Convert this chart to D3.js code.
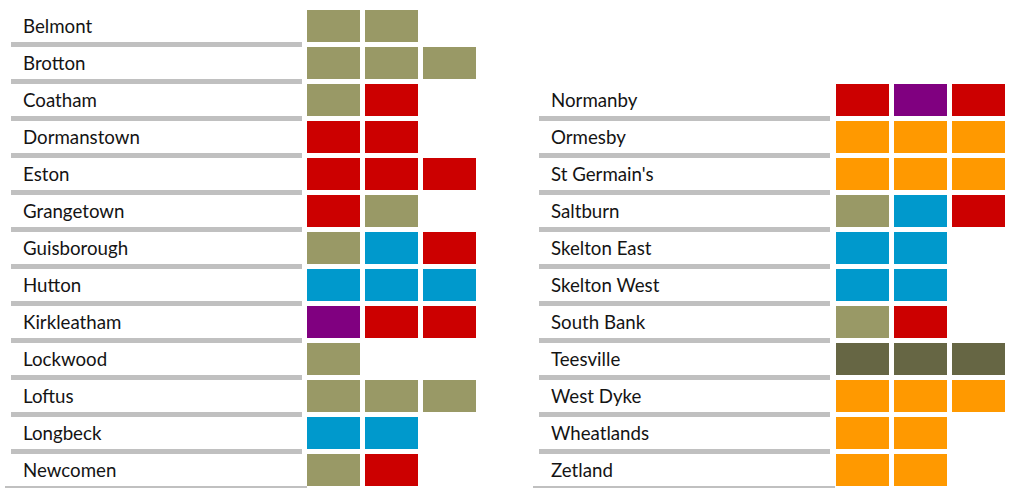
<!DOCTYPE html>
<html>
<head>
<meta charset="utf-8">
<script src="https://cdn.jsdelivr.net/npm/d3@7"></script>
<style>
  html, body { margin: 0; padding: 0; background: #fff; }
  svg { display: block; }
  text { font-family: Lato, "Open Sans", sans-serif; font-size: 18.7px; fill: #141414; }
</style>
</head>
<body>
<svg id="chart" width="1010" height="488"></svg>
<script>
// Wards and the party holding each seat, split into two columns.
const leftWards = ["Belmont", "Brotton", "Coatham", "Dormanstown", "Eston", "Grangetown",
  "Guisborough", "Hutton", "Kirkleatham", "Lockwood", "Loftus", "Longbeck", "Newcomen"];
const leftSeats = [
  ["Independent", "Independent"],
  ["Independent", "Independent", "Independent"],
  ["Independent", "Labour"],
  ["Labour", "Labour"],
  ["Labour", "Labour", "Labour"],
  ["Labour", "Independent"],
  ["Independent", "Conservative", "Labour"],
  ["Conservative", "Conservative", "Conservative"],
  ["UKIP", "Labour", "Labour"],
  ["Independent"],
  ["Independent", "Independent", "Independent"],
  ["Conservative", "Conservative"],
  ["Independent", "Labour"]
];

const rightWards = ["Normanby", "Ormesby", "St Germain's", "Saltburn", "Skelton East",
  "Skelton West", "South Bank", "Teesville", "West Dyke", "Wheatlands", "Zetland"];
const rightSeats = [
  ["Labour", "UKIP", "Labour"],
  ["Liberal Democrat", "Liberal Democrat", "Liberal Democrat"],
  ["Liberal Democrat", "Liberal Democrat", "Liberal Democrat"],
  ["Independent", "Conservative", "Labour"],
  ["Conservative", "Conservative"],
  ["Conservative", "Conservative"],
  ["Independent", "Labour"],
  ["Teesville Independent", "Teesville Independent", "Teesville Independent"],
  ["Liberal Democrat", "Liberal Democrat", "Liberal Democrat"],
  ["Liberal Democrat", "Liberal Democrat"],
  ["Liberal Democrat", "Liberal Democrat"]
];
// Row at which the right-hand column begins.
const rightStartRow = 2;

const parties = ["Independent", "Labour", "Conservative", "UKIP", "Liberal Democrat", "Teesville Independent"];
const partyColours = ["#999966", "#cc0000", "#0099cc", "#800080", "#ff9900", "#666644"];

const svg = d3.select("#chart");
const totalRows = leftWards.length;

const y = d3.scaleBand()
  .domain(d3.range(totalRows))
  .range([10, 10 + totalRows * 37 - 5])
  .paddingInner(5 / 37)
  .paddingOuter(0);

const seatX = d3.scaleBand()
  .domain(d3.range(3))
  .range([307, 476])
  .paddingInner(5 / 58)
  .paddingOuter(0);

const colour = d3.scaleOrdinal().domain(parties).range(partyColours);

function drawColumn(g, wards, seats, startRow, seatShift) {
  const rows = wards.map((w, i) => ({ ward: w, seats: seats[i], row: startRow + i, last: i === wards.length - 1 }));

  const row = g.selectAll("g.ward")
    .data(rows)
    .join("g")
    .attr("class", "ward")
    .attr("transform", d => `translate(0,${y(d.row)})`);

  // separator rule under each label
  row.append("rect")
    .attr("x", d => d.last ? 5 : 11)
    .attr("width", d => d.last ? 302 : 291)
    .attr("y", y.bandwidth())
    .attr("height", 5)
    .attr("fill", "#c0c0c0");

  row.append("text")
    .attr("x", 23)
    .attr("y", 22.8)
    .text(d => d.ward);

  row.selectAll("rect.seat")
    .data(d => d.seats)
    .join("rect")
    .attr("class", "seat")
    .attr("x", (d, i) => seatX(i) + seatShift)
    .attr("y", 0)
    .attr("width", seatX.bandwidth())
    .attr("height", y.bandwidth())
    .attr("fill", d => colour(d));
}

drawColumn(svg.append("g"), leftWards, leftSeats, 0, 0);
drawColumn(svg.append("g").attr("transform", "translate(528,0)"), rightWards, rightSeats, rightStartRow, 1);
</script>
</body>
</html>
